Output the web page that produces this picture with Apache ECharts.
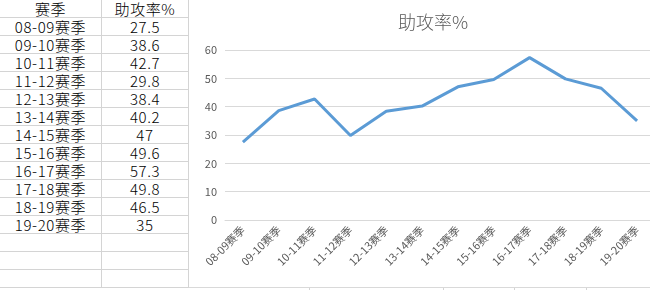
<!DOCTYPE html>
<html>
<head>
<meta charset="utf-8">
<script src="https://cdn.jsdelivr.net/npm/echarts@6/dist/echarts.min.js"></script>
<style>
  html, body { margin:0; padding:0; background:#fff; width:650px; height:290px; overflow:hidden; position:relative; }
  #chart { position:absolute; left:0; top:0; width:660px; height:290px; }
  #frame { position:absolute; left:188px; top:-1px; width:480px; height:289px; box-sizing:border-box; border:1px solid #d9d9d9; pointer-events:none; }
  #table { position:absolute; left:0; top:0; display:grid; grid-template-columns:102px 87px; font-family:"Noto Sans CJK SC", sans-serif; font-weight:300; font-size:15px; letter-spacing:0.6px; color:#000; background:#fff; z-index:2; }
  .cell { box-sizing:border-box; height:18px; border-right:1px solid #d4d4d4; border-bottom:1px solid #d4d4d4; text-align:center; line-height:17px; white-space:nowrap; overflow:hidden; }
  .vl { position:absolute; top:288px; width:1px; height:3px; background:#d4d4d4; }
</style>
</head>
<body>
<div id="chart"></div>
<div id="frame"></div>
<div id="table"></div>
<script>
const headers = ['赛季', '助攻率%'];
const seasons = ['08-09赛季','09-10赛季','10-11赛季','11-12赛季','12-13赛季','13-14赛季','14-15赛季','15-16赛季','16-17赛季','17-18赛季','18-19赛季','19-20赛季'];
const assistRate = [27.5, 38.6, 42.7, 29.8, 38.4, 40.2, 47, 49.6, 57.3, 49.8, 46.5, 35];
const chartTitle = '助攻率%';
const blankRows = 3;

// spreadsheet table
const table = document.getElementById('table');
function addCell(text) {
  const d = document.createElement('div');
  d.className = 'cell';
  d.textContent = text;
  table.appendChild(d);
}
headers.forEach(addCell);
seasons.forEach((s, i) => { addCell(s); addCell(String(assistRate[i])); });
for (let i = 0; i < blankRows; i++) { addCell(''); addCell(''); }

// cell lines peeking below the chart
[309, 443, 514, 586].forEach(x => {
  const v = document.createElement('div');
  v.className = 'vl';
  v.style.left = x + 'px';
  document.body.appendChild(v);
});

const chart = echarts.init(document.getElementById('chart'), null, { renderer: 'canvas' });
chart.setOption({
  animation: false,
  backgroundColor: 'transparent',
  title: {
    text: chartTitle,
    left: 393,
    top: 8,
    textStyle: { fontSize: 18, fontWeight: 300, color: '#595959', fontFamily: 'Noto Sans CJK SC' }
  },
  grid: { left: 225, right: 5, top: 50, bottom: 70 },
  xAxis: {
    type: 'category',
    data: seasons,
    boundaryGap: true,
    axisLine: { lineStyle: { color: '#d9d9d9', width: 1 } },
    axisTick: { show: false },
    axisLabel: { interval: 0, rotate: 45, fontSize: 11, color: '#595959', margin: 8, fontFamily: 'Noto Sans CJK SC' }
  },
  yAxis: {
    type: 'value',
    min: 0,
    max: 60,
    interval: 10,
    axisLine: { show: false },
    axisTick: { show: false },
    splitLine: { lineStyle: { color: '#d9d9d9', width: 1 } },
    axisLabel: { fontSize: 11, color: '#595959', margin: 8, fontFamily: 'Noto Sans CJK SC' }
  },
  series: [{
    type: 'line',
    data: assistRate,
    symbol: 'none',
    lineStyle: { color: '#5B9BD5', width: 3 },
    itemStyle: { color: '#5B9BD5' }
  }]
});
</script>
</body>
</html>
